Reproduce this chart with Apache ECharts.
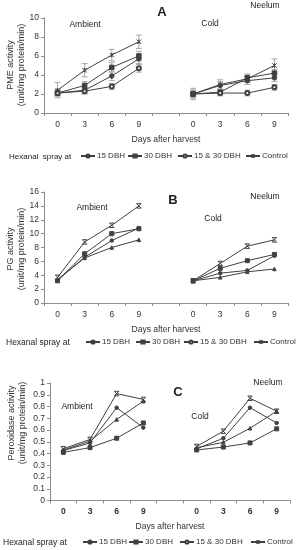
<!DOCTYPE html>
<html><head><meta charset="utf-8">
<script src="https://cdn.jsdelivr.net/npm/echarts@6/dist/echarts.min.js"></script>
<style>html,body{margin:0;padding:0;background:#fff}#c{width:297px;height:550px}</style>
</head><body><div id="c"></div>
<script>
const xCats = ['0','3','6','9','','0','3','6','9'];
const seriesNames = ['15 DBH','30 DBH','15 & 30 DBH','Control'];
const yTicksA = [0,10,2];
const yTicksB = [0,16,2];
const yTicksC = [0,1,0.1];

// Panel A: PME activity
const pmeAmb15 = [2.1,2.4,3.9,5.7];
const pmeAmb30 = [2.1,2.9,4.8,6.0];
const pmeAmbBoth = [2.1,2.3,2.8,4.7];
const pmeAmbCtrl = [2.4,4.5,6.1,7.5];
const pmeCold15 = [2.0,2.9,3.4,3.7];
const pmeCold30 = [2.0,2.2,3.7,4.2];
const pmeColdBoth = [2.0,2.1,2.1,2.7];
const pmeColdCtrl = [2.0,3.0,3.6,5.0];
const pmeErrAmb15 = [0.3,0.3,0.5,0.5];
const pmeErrAmb30 = [0.3,0.4,0.5,0.5];
const pmeErrAmbBoth = [0.3,0.3,0.3,0.4];
const pmeErrAmbCtrl = [0.8,0.7,0.6,0.7];
const pmeErrCold15 = [0.4,0.4,0.4,0.4];
const pmeErrCold30 = [0.3,0.3,0.4,0.4];
const pmeErrColdBoth = [0.4,0.3,0.3,0.3];
const pmeErrColdCtrl = [0.6,0.5,0.4,0.7];

// Panel B: PG activity
const pgAmb15 = [3.3,6.6,9.0,10.8];
const pgAmb30 = [3.2,7.1,10.0,10.7];
const pgAmbBoth = [3.4,6.5,8.0,9.1];
const pgAmbCtrl = [3.7,8.8,11.2,14.0];
const pgCold15 = [3.2,4.3,4.7,6.8];
const pgCold30 = [3.2,5.0,6.1,7.0];
const pgColdBoth = [3.2,3.7,4.5,4.9];
const pgColdCtrl = [3.2,5.7,8.2,9.1];

// Panel C: Peroxidase activity
const poxAmb15 = [0.425,0.49,0.79,0.62];
const poxAmb30 = [0.41,0.45,0.53,0.66];
const poxAmbBoth = [0.43,0.505,0.69,0.845];
const poxAmbCtrl = [0.44,0.52,0.91,0.86];
const poxCold15 = [0.44,0.53,0.79,0.66];
const poxCold30 = [0.43,0.455,0.49,0.61];
const poxColdBoth = [0.45,0.495,0.615,0.76];
const poxColdCtrl = [0.46,0.59,0.87,0.76];

const FONT = 'Liberation Sans';
const LC = '#404040';
const xSym = 'path://M0,0L10,10M10,0L0,10M0,0L10,0M0,10L10,10';
const xSymA = 'path://M0,0L10,10M10,0L0,10M5,0L5,10';

function join(a, c) { return a.concat([null], c); }

const chart = echarts.init(document.getElementById('c'), null, {renderer: 'canvas'});

const grids = [
  {left: 44, right: 9, top: 18, height: 95},
  {left: 44, right: 9, top: 192, height: 111},
  {left: 50, right: 7, top: 383, height: 117.5}
];

function xAxis(i, bold) {
  return {
    gridIndex: i, type: 'category', data: xCats, boundaryGap: true,
    axisLine: {lineStyle: {color: '#8c8c8c', width: 1}},
    axisTick: {show: true, length: 3, lineStyle: {color: '#8c8c8c'}},
    axisLabel: {fontSize: 8.5, color: '#333', fontFamily: FONT, fontWeight: bold ? 'bold' : 'normal', margin: 7},
    name: 'Days after harvest', nameLocation: 'middle', nameGap: 22,
    nameTextStyle: {fontSize: 8.5, color: '#333', fontFamily: FONT}
  };
}
function yAxis(i, t) {
  return {
    gridIndex: i, type: 'value', min: t[0], max: t[1], interval: t[2],
    axisLine: {show: true, lineStyle: {color: '#8c8c8c'}},
    axisTick: {show: true, length: 3, lineStyle: {color: '#8c8c8c'}},
    splitLine: {show: false},
    axisLabel: {fontSize: 8.5, color: '#333', fontFamily: FONT, margin: 5}
  };
}

function line(i, name, a, c, sym, size) {
  return {
    type: 'line', name: name, xAxisIndex: i, yAxisIndex: i,
    data: join(a, c), symbol: sym, symbolSize: size,
    lineStyle: {color: LC, width: 1},
    itemStyle: {color: LC, borderColor: LC, borderWidth: 1},
    animation: false, z: 3
  };
}
function errBars(i, a, c, ea, ec) {
  const vals = join(a, c), errs = join(ea, ec);
  const data = [];
  vals.forEach((v, k) => { if (v != null) data.push([k, v, errs[k]]); });
  return {
    type: 'custom', name: 'err', xAxisIndex: i, yAxisIndex: i, data: data, z: 2, animation: false,
    renderItem: function (params, api) {
      const x = api.value(0), v = api.value(1), e = api.value(2);
      const hi = api.coord([x, v + e]), lo = api.coord([x, v - e]);
      const w = 3, st = {stroke: '#a8a8a8', lineWidth: 1};
      return {type: 'group', children: [
        {type: 'line', shape: {x1: hi[0], y1: hi[1], x2: lo[0], y2: lo[1]}, style: st},
        {type: 'line', shape: {x1: hi[0]-w, y1: hi[1], x2: hi[0]+w, y2: hi[1]}, style: st},
        {type: 'line', shape: {x1: lo[0]-w, y1: lo[1], x2: lo[0]+w, y2: lo[1]}, style: st}
      ]};
    }
  };
}

function txt(x, y, s, size, bold, align) {
  return {type: 'text', x: x, y: y, style: {text: s, fontSize: size, fontWeight: bold ? 'bold' : 'normal',
    fill: '#222', fontFamily: FONT, align: align || 'center', verticalAlign: 'middle'}};
}
function ytitle(x, y, s) {
  return {type: 'text', x: x, y: y, rotation: Math.PI / 2,
    style: {text: s, fontSize: 9, fill: '#333', fontFamily: FONT, align: 'center', verticalAlign: 'middle', lineHeight: 11}};
}

function legendItems(cy, lefts) {
  return seriesNames.map((n, k) => ({
    top: cy - 5, left: lefts[k], padding: 0, data: [n], itemWidth: 14, itemHeight: 4,
    selectedMode: false,
    textStyle: {fontSize: 8, color: '#333', fontFamily: FONT, padding: [0, 0, 0, -3]}
  }));
}

const option = {
  animation: false,
  grid: grids,
  xAxis: [xAxis(0), xAxis(1), xAxis(2, true)],
  yAxis: [yAxis(0, yTicksA), yAxis(1, yTicksB), yAxis(2, yTicksC)],
  legend: [].concat(
    legendItems(157, [80, 127, 177, 245]),
    legendItems(343, [85, 135, 183, 253]),
    legendItems(543, [82, 128, 179, 250])
  ),
  series: [
    errBars(0, pmeAmb15, pmeCold15, pmeErrAmb15, pmeErrCold15),
    errBars(0, pmeAmb30, pmeCold30, pmeErrAmb30, pmeErrCold30),
    errBars(0, pmeAmbBoth, pmeColdBoth, pmeErrAmbBoth, pmeErrColdBoth),
    errBars(0, pmeAmbCtrl, pmeColdCtrl, pmeErrAmbCtrl, pmeErrColdCtrl),
    line(0, '15 DBH', pmeAmb15, pmeCold15, 'circle', 4.5),
    line(0, '30 DBH', pmeAmb30, pmeCold30, 'rect', 4.5),
    line(0, '15 & 30 DBH', pmeAmbBoth, pmeColdBoth, 'emptyCircle', 4),
    line(0, 'Control', pmeAmbCtrl, pmeColdCtrl, xSymA, 4.5),
    line(1, '15 DBH', pgAmb15, pgCold15, 'circle', 3.5),
    line(1, '30 DBH', pgAmb30, pgCold30, 'rect', 4),
    line(1, '15 & 30 DBH', pgAmbBoth, pgColdBoth, 'triangle', 3.5),
    line(1, 'Control', pgAmbCtrl, pgColdCtrl, xSym, 4.5),
    line(2, '15 DBH', poxAmb15, poxCold15, 'circle', 3.5),
    line(2, '30 DBH', poxAmb30, poxCold30, 'rect', 4),
    line(2, '15 & 30 DBH', poxAmbBoth, poxColdBoth, 'triangle', 3.5),
    line(2, 'Control', poxAmbCtrl, poxColdCtrl, xSym, 4.5)
  ],
  graphic: [
    ytitle(16, 65, 'PME activity\n(unit/mg protein/min)'),
    ytitle(16, 249, 'PG activity\n(unit/mg protein/min)'),
    ytitle(17, 423, 'Peroxidase activity\n(unit/mg protein/min)'),
    txt(162, 12, 'A', 13, true), txt(265, 6, 'Neelum', 8.5), txt(85, 25, 'Ambient', 8.5), txt(210, 24, 'Cold', 8.5),
    txt(173, 200, 'B', 13, true), txt(265, 197, 'Neelum', 8.5), txt(92, 208, 'Ambient', 8.5), txt(213, 219, 'Cold', 8.5),
    txt(178, 392, 'C', 13, true), txt(268, 383, 'Neelum', 8.5), txt(77, 407, 'Ambient', 8.5), txt(200, 417, 'Cold', 8.5),
    txt(9, 157, 'Hexanal  spray at', 8, false, 'left'),
    txt(6, 343, 'Hexanal spray at', 8.5, false, 'left'),
    txt(3, 543, 'Hexanal spray at', 8.5, false, 'left')
  ]
};
chart.setOption(option);
</script>
</body></html>
